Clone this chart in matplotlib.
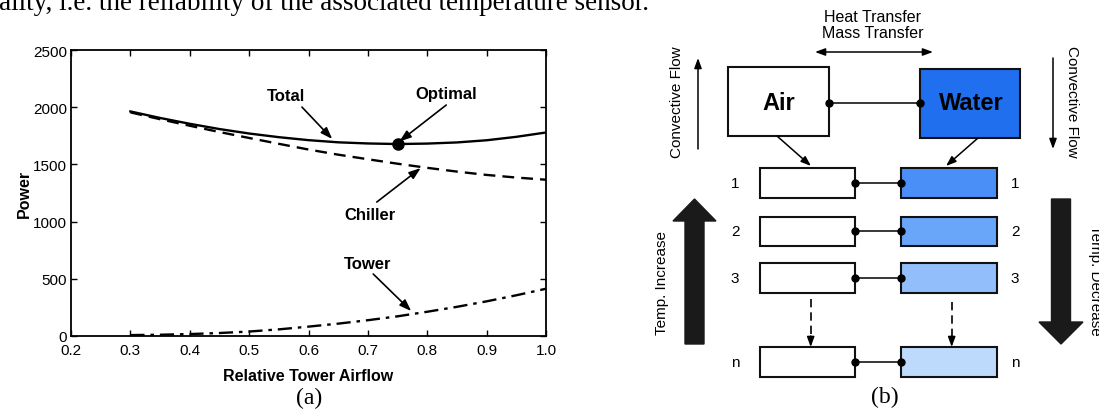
import matplotlib
matplotlib.use("Agg")
import matplotlib.pyplot as plt
import matplotlib.patches as mpatches

plt.rcParams['font.family'] = ['Liberation Sans', 'DejaVu Sans']

# Data
airflow = [0.30, 0.35, 0.40, 0.45, 0.50, 0.55, 0.60, 0.65, 0.70, 0.75, 0.80, 0.85, 0.90, 0.95, 1.00]
chiller = [1955, 1895, 1838, 1783, 1731, 1680, 1630, 1585, 1545, 1506, 1470, 1437, 1408, 1385, 1366]
tower = [8, 11, 17, 26, 39, 58, 82, 108, 138, 172, 212, 255, 303, 356, 413]
total = [1963, 1906, 1855, 1809, 1770, 1738, 1712, 1693, 1683, 1678, 1682, 1692, 1711, 1741, 1779]
opt_x = 0.75
opt_y = 1678

xticks = [0.2, 0.3, 0.4, 0.5, 0.6, 0.7, 0.8, 0.9, 1.0]
xtick_labels = ['0.2', '0.3', '0.4', '0.5', '0.6', '0.7', '0.8', '0.9', '1.0']
yticks = [0, 500, 1000, 1500, 2000, 2500]

# Panel (b) labels
row_labels = ['1', '2', '3', 'n']
row_colors = ['#4a8ff7', '#69a5f9', '#92bffb', '#bddafd']
water_color = '#1f6fef'

W, H = 1099, 410
fig = plt.figure(figsize=(W / 100, H / 100), dpi=100)

# overlay in pixel coordinates for the diagram and captions
ov = fig.add_axes([0, 0, 1, 1], zorder=0)
ov.set_xlim(0, W)
ov.set_ylim(H, 0)
ov.axis('off')

# ---- panel (a) ----
ax = fig.add_axes([71 / W, (H - 337) / H, 475 / W, 286 / H], zorder=2)
ax.patch.set_alpha(0)
ax.plot(airflow, total, color='k', lw=1.7)
ax.plot(airflow, chiller, color='k', lw=1.7, linestyle=(0, (5, 3)))
ax.plot(airflow, tower, color='k', lw=1.7, linestyle=(0, (6, 2.5, 1.5, 2.5)))
ax.plot(opt_x, opt_y, 'ko', ms=8)

ax.set_xlim(0.2, 1.0)
ax.set_ylim(0, 2500)
ax.set_xticks(xticks)
ax.set_xticklabels(xtick_labels)
ax.set_yticks(yticks)
ax.tick_params(direction='in', top=True, right=True, length=4, width=1,
               labelsize=11)
ax.tick_params(axis='x', pad=5)
ax.tick_params(axis='y', pad=3)
for s in ax.spines.values():
    s.set_linewidth(1.3)
ax.set_xlabel('Relative Tower Airflow', fontsize=11.5, fontweight='bold', labelpad=8)
ax.set_ylabel('Power', fontsize=11.5, fontweight='bold', labelpad=1)

arr = dict(arrowstyle='-|>,head_length=0.7,head_width=0.25', color='k', lw=1.2,
           shrinkA=0, shrinkB=0)
ax.text(0.562, 2098, 'Total', fontsize=12, fontweight='bold', ha='center', va='center')
ax.annotate('', xy=(0.640, 1722), xytext=(0.589, 2001), arrowprops=arr)
ax.text(0.832, 2124, 'Optimal', fontsize=12, fontweight='bold', ha='center', va='center')
ax.annotate('', xy=(0.753, 1700), xytext=(0.832, 2019), arrowprops=arr)
ax.text(0.704, 1058, 'Chiller', fontsize=12, fontweight='bold', ha='center', va='center')
ax.annotate('', xy=(0.789, 1468), xytext=(0.715, 1171), arrowprops=arr)
ax.text(0.700, 638, 'Tower', fontsize=12, fontweight='bold', ha='center', va='center')
ax.annotate('', xy=(0.773, 218), xytext=(0.709, 542), arrowprops=arr)

# ---- captions and page text ----
ov.text(-1, 9.5, 'ality, i.e. the reliability of the associated temperature sensor.',
        family='Liberation Serif', fontsize=19.5, ha='left', va='baseline')
ov.text(309, 398, '(a)', family='Liberation Serif', fontsize=17, ha='center', va='center')
ov.text(885, 397, '(b)', family='Liberation Serif', fontsize=17, ha='center', va='center')

# ---- panel (b) diagram ----
edge = '#111111'
small = dict(arrowstyle='-|>,head_length=0.6,head_width=0.22', color='k', lw=1.1,
             shrinkA=0, shrinkB=0)

ov.add_patch(mpatches.Rectangle((728, 68), 101, 69, facecolor='white', edgecolor=edge, lw=1.5))
ov.add_patch(mpatches.Rectangle((919.5, 70), 100.5, 69, facecolor=water_color, edgecolor=edge, lw=1.5))
ov.text(779, 104, 'Air', fontsize=17, fontweight='bold', ha='center', va='center')
ov.text(971, 104, 'Water', fontsize=17, fontweight='bold', ha='center', va='center')
ov.plot([829, 919.5], [104, 104], color='k', lw=1.1, marker='o', ms=5)

ov.text(873, 18, 'Heat Transfer', fontsize=11.5, ha='center', va='center')
ov.text(873, 34, 'Mass Transfer', fontsize=11.5, ha='center', va='center')
ov.annotate('', xy=(933, 53), xytext=(815, 53),
            arrowprops=dict(arrowstyle='<|-|>,head_length=0.6,head_width=0.22', color='k',
                            lw=1.1, shrinkA=0, shrinkB=0))

ov.text(677, 102, 'Convective Flow', fontsize=11, rotation=90, ha='center', va='center')
ov.annotate('', xy=(698, 59), xytext=(698, 150), arrowprops=small)
ov.text(1072, 102, 'Convective Flow', fontsize=11, rotation=270, ha='center', va='center')
ov.annotate('', xy=(1053, 150), xytext=(1053, 59), arrowprops=small)

ov.annotate('', xy=(811, 167), xytext=(777, 137), arrowprops=small)
ov.annotate('', xy=(946, 167), xytext=(978, 139), arrowprops=small)

row_tops = [169, 217.7, 264.3, 348.3]
row_h = 29.5
for lab, col, top in zip(row_labels, row_colors, row_tops):
    yc = top + row_h / 2
    ov.add_patch(mpatches.Rectangle((759.5, top), 95.5, row_h, facecolor='white',
                                    edgecolor=edge, lw=1.5))
    ov.add_patch(mpatches.Rectangle((901, top), 95.5, row_h, facecolor=col,
                                    edgecolor=edge, lw=1.5))
    ov.plot([855, 901], [yc, yc], color='k', lw=1.1, marker='o', ms=5)
    ov.text(735, yc, lab, fontsize=11, ha='center', va='center')
    ov.text(1015, yc, lab, fontsize=11, ha='center', va='center')

# dashed arrows between row 3 and row n
for xd, y0 in [(810.7, 300), (951.7, 303)]:
    ov.plot([xd, xd], [y0, 338], color='k', lw=1.2, linestyle=(0, (5, 3)))
    ov.annotate('', xy=(xd, 348), xytext=(xd, 337), arrowprops=small)

# big temperature arrows
ov.add_patch(mpatches.FancyArrow(694.5, 345, 0, -145, width=19, head_width=43,
                                 head_length=22, length_includes_head=True,
                                 color='#1a1a1a'))
ov.add_patch(mpatches.FancyArrow(1061, 200, 0, 145, width=19, head_width=44,
                                 head_length=22, length_includes_head=True,
                                 color='#1a1a1a'))
ov.text(662, 283, 'Temp. Increase', fontsize=11, rotation=90, ha='center', va='center')
ov.text(1095, 280, 'Temp. Decrease', fontsize=11, rotation=270, ha='center', va='center',
        clip_on=False)

fig.savefig('out.png', dpi=100)
